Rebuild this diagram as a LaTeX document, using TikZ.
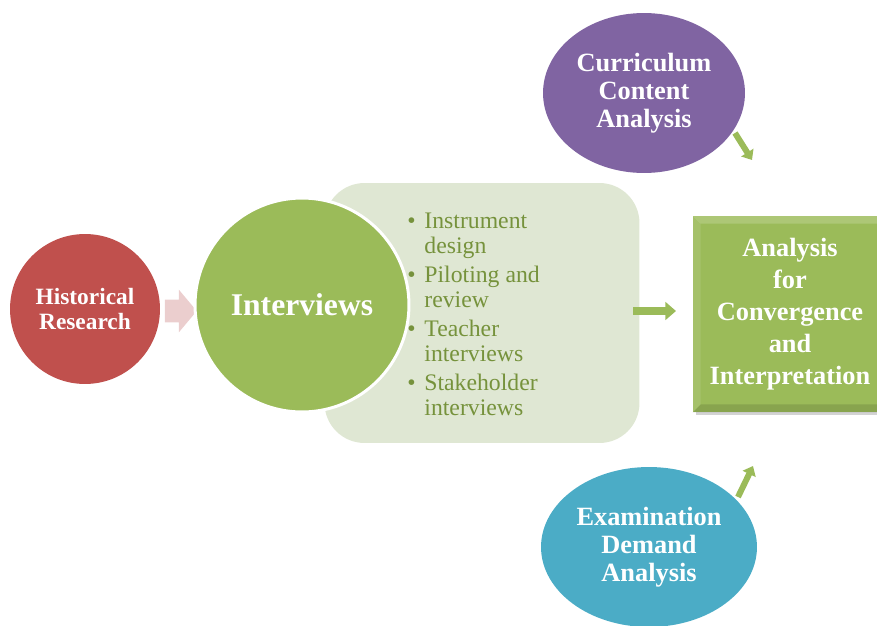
\documentclass[tikz,border=0pt]{standalone}
\usepackage{fontspec}
\setmainfont{Liberation Serif}
\usepackage{tikz}
\usetikzlibrary{calc,arrows.meta,shapes.geometric,shapes.arrows,shadows}

\definecolor{histred}{HTML}{C0504D}
\definecolor{intgreen}{HTML}{9BBB59}
\definecolor{curpurple}{HTML}{8064A2}
\definecolor{examteal}{HTML}{4BACC6}
\definecolor{listbg}{HTML}{DFE7D3}
\definecolor{listtxt}{HTML}{76923C}
\definecolor{pinkarrow}{HTML}{EBCECE}

\begin{document}
\begin{tikzpicture}[x=0.02cm,y=-0.02cm,
   bubble/.style={circle,text=white,font=\bfseries,align=center,inner sep=0pt},
   oval/.style={ellipse,text=white,align=center,inner sep=0pt,
      font=\fontsize{15}{16}\selectfont\bfseries},
   greenarrow/.style={intgreen,line width=4.5pt,-{Triangle[length=6pt,width=10pt]}},
   thinarrow/.style={intgreen,line width=3.4pt,-{Triangle[length=5pt,width=8pt]}},
   bevelbox/.style={rectangle,fill=intgreen,text=white,align=center,
      font=\fontsize{15}{18.3}\selectfont\bfseries,
      drop shadow={opacity=0.35,shadow xshift=0.06cm,shadow yshift=-0.06cm},
      path picture={
        \fill[white,opacity=0.18] (path picture bounding box.north west) -- (path picture bounding box.north east)
           -- ++(-8,8) -- ($(path picture bounding box.north west)+(8,8)$) -- cycle;
        \fill[white,opacity=0.10] (path picture bounding box.north west) -- (path picture bounding box.south west)
           -- ++(8,-8) -- ($(path picture bounding box.north west)+(8,8)$) -- cycle;
        \fill[black,opacity=0.12] (path picture bounding box.south west) -- (path picture bounding box.south east)
           -- ++(-8,-8) -- ($(path picture bounding box.south west)+(8,-8)$) -- cycle;
        \fill[black,opacity=0.08] (path picture bounding box.north east) -- (path picture bounding box.south east)
           -- ++(-8,-8) -- ($(path picture bounding box.north east)+(-8,8)$) -- cycle;
      }}]
\useasboundingbox (0,0) rectangle (877,626);
\clip (0,0) rectangle (877,626);

\node[rectangle,rounded corners=0.8cm,fill=listbg,minimum width=6.3cm,minimum height=5.2cm] (box) at (482,313) {};
\node[anchor=north west,text=listtxt,inner sep=0pt,font=\fontsize{13.5}{14.2}\selectfont] (items) at (407,211)
  {\begin{tabular}{@{}l@{\hspace{5pt}}l@{}}
   \textbullet & Instrument\\
               & design\\[2.3pt]
   \textbullet & Piloting and\\
               & review\\[2.3pt]
   \textbullet & Teacher\\
               & interviews\\[2.3pt]
   \textbullet & Stakeholder\\
               & interviews
   \end{tabular}};

\node[bubble,fill=histred,minimum size=3cm,font=\fontsize{13.3}{14.2}\selectfont\bfseries] (hist) at (85,309) {Historical\\Research};
\node[single arrow,fill=pinkarrow,minimum height=0.64cm,inner xsep=0pt,inner ysep=0.22cm,
      single arrow head extend=0.2cm,single arrow tip angle=100] (push) at (176,311) {};
\node[bubble,fill=intgreen,draw=white,line width=1.7pt,minimum size=4.28cm,font=\fontsize{18}{20}\selectfont\bfseries] (int) at (302,305) {Interviews};

\node[bevelbox,minimum width=3.9cm,minimum height=3.94cm] (ana) at (790,314) {Analysis\\for\\Convergence\\and\\Interpretation};
\node[oval,fill=curpurple,minimum width=4.04cm,minimum height=3.2cm] (cur) at (644,93) {Curriculum\\Content\\Analysis};
\node[oval,fill=examteal,minimum width=4.32cm,minimum height=3.2cm] (exam) at (649,547) {Examination\\Demand\\Analysis};

\coordinate (ctail) at (735,133);
\coordinate (chead) at (752,160);
\coordinate (etail) at (738,497);
\coordinate (ehead) at (753,466);
\coordinate (btail) at (633,311);
\coordinate (bhead) at (676,311);
\draw[greenarrow] (btail) -- (bhead);
\draw[thinarrow] (ctail) -- (chead);
\draw[thinarrow] (etail) -- (ehead);
\end{tikzpicture}
\end{document}
